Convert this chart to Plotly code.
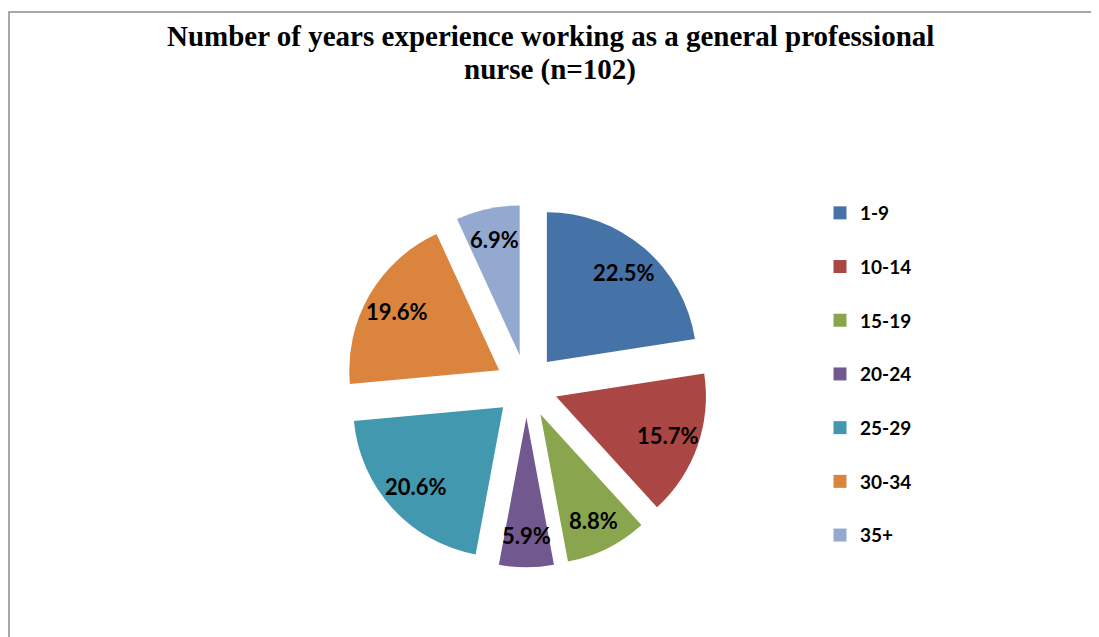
import math
import plotly.graph_objects as go

categories = ["1-9", "10-14", "15-19", "20-24", "25-29", "30-34", "35+"]
counts = [23, 16, 9, 6, 21, 20, 7]
colors = ["#4572A7", "#AA4643", "#89A54E", "#71588F", "#4198AF", "#DB843D", "#93A9CF"]
title_lines = ["Number of years experience working as a general professional", "nurse (n=102)"]

W, H = 1099, 637
PULL = 0.21
DOM_X = [0.3067, 0.6367]
DOM_Y = [0.1216, 0.6916]

fig = go.Figure()

fig.add_trace(go.Pie(
    labels=categories, values=counts, sort=False, direction="clockwise", rotation=0,
    marker=dict(colors=colors, line=dict(width=0)),
    pull=[PULL] * len(counts),
    textinfo="none",
    showlegend=False, hoverinfo="label+percent",
    domain=dict(x=DOM_X, y=DOM_Y),
))

# percentage labels placed along each slice's bisector
cx = (DOM_X[0] + DOM_X[1]) / 2 * W
cy = (1 - (DOM_Y[0] + DOM_Y[1]) / 2) * H
r = min((DOM_X[1] - DOM_X[0]) * W, (DOM_Y[1] - DOM_Y[0]) * H) / (2 * (1 + PULL))
total = sum(counts)
cum = 0
annotations = []
for v in counts:
    mid = (cum + v / 2) / total * 2 * math.pi
    cum += v
    d = r * (PULL + 0.79)
    px = cx + d * math.sin(mid)
    py = cy - d * math.cos(mid)
    annotations.append(dict(
        x=px / W, y=1 - py / H, xref="paper", yref="paper",
        text=f"{v / total * 100:.1f}%", showarrow=False,
        xanchor="center", yanchor="middle",
        font=dict(family="Lato", size=22, color="black", weight="bold"),
    ))

for i, line in enumerate(title_lines):
    annotations.append(dict(
        x=542 / W, y=1 - (28 + 34 * i) / H, xref="paper", yref="paper",
        text=f"<b>{line}</b>", showarrow=False, xanchor="center", yanchor="middle",
        font=dict(family="Liberation Serif", size=29, color="black"),
    ))

for c, col in zip(categories, colors):
    fig.add_trace(go.Scatter(
        x=[None], y=[None], mode="markers", name=c, legendgroup=c,
        marker=dict(symbol="square", size=13, color=col),
    ))

fig.update_layout(
    width=W, height=H,
    margin=dict(l=0, r=0, t=0, b=0),
    paper_bgcolor="white", plot_bgcolor="white",
    xaxis=dict(visible=False), yaxis=dict(visible=False),
    annotations=annotations,
    legend=dict(
        x=812 / W, y=1 - 186 / H, xanchor="left", yanchor="top",
        font=dict(family="Lato", size=19, color="black", weight="bold"),
        tracegroupgap=26, bgcolor="rgba(0,0,0,0)",
    ),
    shapes=[dict(type="rect", xref="paper", yref="paper",
                 x0=1 / W, x1=1.05, y0=-0.05, y1=1 - 4 / H,
                 line=dict(color="#8c8c8c", width=1.5))],
)

fig.write_html("out.html")
